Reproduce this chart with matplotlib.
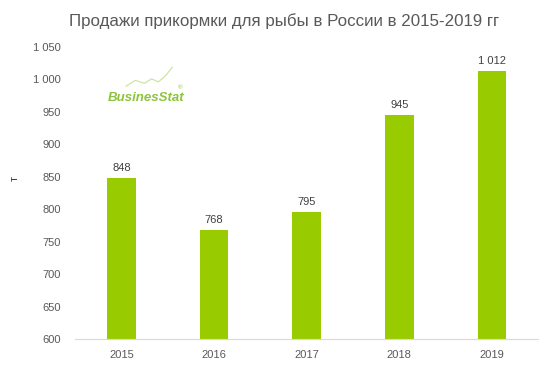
import matplotlib.pyplot as plt

years = ['2015', '2016', '2017', '2018', '2019']
sales = [848, 768, 795, 945, 1012]
y_ticks = [600, 650, 700, 750, 800, 850, 900, 950, 1000, 1050]


def fmt(v):
    return f'{v:,}'.replace(',', ' ')


plt.rcParams['font.family'] = ['Liberation Sans', 'DejaVu Sans']

fig = plt.figure(figsize=(5.52, 3.82), dpi=100)
ax = fig.add_axes([0.136, 0.1126, 0.839, 0.765])

bars = ax.bar(range(len(years)), sales, width=0.31, color='#99CC00', zorder=2)

for i, v in enumerate(sales):
    ax.text(i, v + 8, fmt(v), ha='center', va='bottom', fontsize=8, color='#404040')

ax.set_xlim(-0.5, len(years) - 0.5)
ax.set_ylim(600, 1050)
ax.set_yticks(y_ticks)
ax.set_yticklabels([fmt(t) for t in y_ticks])
ax.set_xticks(range(len(years)))
ax.set_xticklabels(years)
ax.tick_params(axis='both', length=0, labelsize=8, labelcolor='#595959')
ax.tick_params(axis='y', pad=10)
ax.tick_params(axis='x', pad=8)

for s in ['top', 'right', 'left']:
    ax.spines[s].set_visible(False)
ax.spines['bottom'].set_color('#D9D9D9')

ax.set_ylabel('т', fontsize=8, color='#404040')
ax.yaxis.set_label_coords(-0.12, 0.55)

fig.text(0.514, 0.945, 'Продажи прикормки для рыбы в России в 2015-2019 гг',
         ha='center', va='center', fontsize=12.2, color='#595959')

# логотип
ax.text(0.071, 0.815, 'BusinesStat', transform=ax.transAxes, fontsize=9.5,
        fontweight='bold', fontstyle='italic', color='#8CC43C')
ax.text(0.222, 0.855, '®', transform=ax.transAxes, fontsize=4.5, color='#8CC43C')
ax.plot([0.11, 0.13, 0.15, 0.165, 0.18, 0.195, 0.21],
        [0.865, 0.885, 0.875, 0.89, 0.88, 0.9, 0.93],
        transform=ax.transAxes, color='#C8E29A', lw=0.8)

fig.savefig('out.png', dpi=100)
